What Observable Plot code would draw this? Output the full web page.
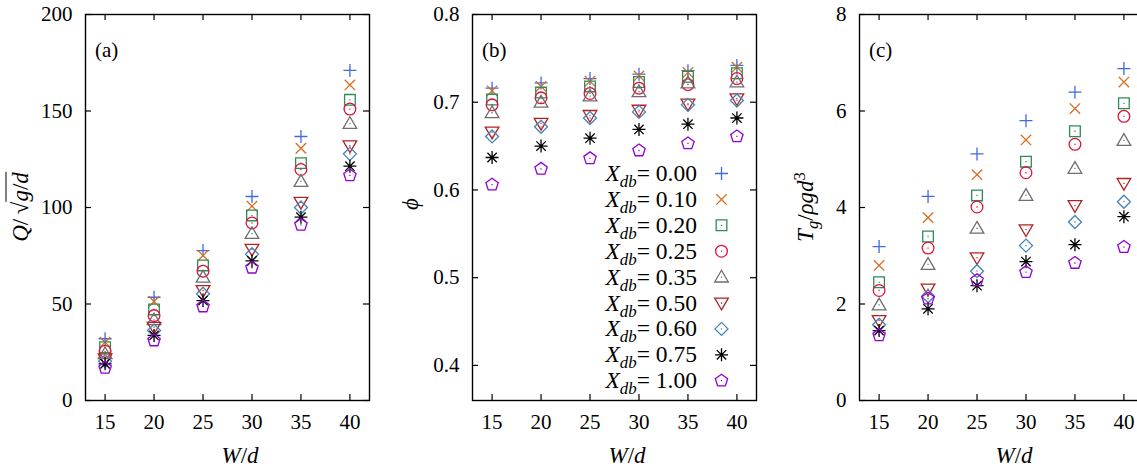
<!DOCTYPE html>
<html><head><meta charset="utf-8">
<script src="https://cdn.jsdelivr.net/npm/d3@7"></script>
<script src="https://cdn.jsdelivr.net/npm/@observablehq/plot@0.6"></script>
<style>
html,body{margin:0;padding:0;background:#fff;overflow:hidden}
#wrap{position:relative;width:1137px;height:475px;overflow:hidden;font-family:"Liberation Serif","DejaVu Serif",serif;color:#000}
.panel{position:absolute;top:0;width:387px;height:475px}
.panel svg{max-width:none !important;width:387px;height:475px}
.lab{position:absolute;white-space:nowrap;font-size:21px;line-height:1}
.big{font-size:23px}
.rot{transform:translate(-50%,-50%) rotate(-90deg)}
.ctr{transform:translate(-50%,-50%)}
.tag{transform:translate(0,-50%)}
sub,sup{font-size:0.72em;line-height:0}
sub{vertical-align:-0.35em}
sup{vertical-align:0.45em}
.leg{position:absolute;white-space:nowrap;font-size:23.5px;line-height:26px;text-align:right}
.ov{border-top:1.3px solid #000;padding-top:1px}
</style></head><body><div id="wrap"></div>
<script>
// ---------------- data ----------------
const W_d = [15, 20, 25, 30, 35, 40];
const Xdb = ["0.00", "0.10", "0.20", "0.25", "0.35", "0.50", "0.60", "0.75", "1.00"];
const colors = ["#4169e1", "#d96c1e", "#2e8b57", "#dc143c", "#6e6e6e", "#b22222", "#4682b4", "#000000", "#9400d3"];

// (a) Q / sqrt(g/d), one row per X_db
const Q = [
  [32.0, 53.5, 77.7, 105.7, 136.8, 171.0],
  [30.2, 51.3, 75.1, 100.7, 130.7, 163.5],
  [27.6, 47.2, 70.0, 95.9, 123.0, 155.8],
  [25.5, 44.0, 67.0, 92.0, 119.7, 151.0],
  [24.2, 41.8, 63.9, 86.5, 113.5, 143.5],
  [21.6, 38.0, 57.0, 78.4, 102.7, 132.0],
  [20.4, 36.3, 55.3, 75.8, 100.0, 127.8],
  [19.0, 33.7, 51.8, 72.3, 95.0, 121.4],
  [16.9, 31.1, 48.7, 68.8, 91.0, 116.6]
];
// (b) phi
const PHI = [
  [0.716, 0.722, 0.727, 0.732, 0.736, 0.742],
  [0.713, 0.718, 0.724, 0.730, 0.734, 0.740],
  [0.703, 0.711, 0.718, 0.723, 0.729, 0.733],
  [0.697, 0.705, 0.710, 0.716, 0.720, 0.727],
  [0.688, 0.700, 0.707, 0.712, 0.722, 0.723],
  [0.666, 0.676, 0.685, 0.691, 0.698, 0.704],
  [0.661, 0.672, 0.682, 0.689, 0.697, 0.702],
  [0.637, 0.650, 0.659, 0.669, 0.675, 0.682],
  [0.606, 0.624, 0.636, 0.645, 0.653, 0.661]
];
// (c) T_g / rho g d^3
const TG = [
  [3.19, 4.23, 5.11, 5.80, 6.39, 6.88],
  [2.80, 3.79, 4.68, 5.40, 6.05, 6.60],
  [2.45, 3.40, 4.25, 4.95, 5.58, 6.16],
  [2.28, 3.16, 4.01, 4.72, 5.31, 5.89],
  [1.98, 2.82, 3.57, 4.25, 4.81, 5.39],
  [1.66, 2.31, 2.96, 3.54, 4.04, 4.50],
  [1.57, 2.16, 2.68, 3.21, 3.70, 4.12],
  [1.45, 1.90, 2.38, 2.88, 3.23, 3.81],
  [1.35, 2.11, 2.49, 2.66, 2.85, 3.18]
];
const ticksQ = [0, 50, 100, 150, 200];
const ticksPhi = [0.4, 0.5, 0.6, 0.7, 0.8];
const ticksTg = [0, 2, 4, 6, 8];

// ---------------- symbols (gnuplot-like) ----------------
const K = (f) => ({draw(c, size) { f(c, Math.sqrt(size / Math.PI)); }});
const dotC = (c) => { c.moveTo(-0.6, 0); c.lineTo(0.6, 0); };
const syms = [
  K((c, r) => { c.moveTo(-r, 0); c.lineTo(r, 0); c.moveTo(0, -r); c.lineTo(0, r); }),
  K((c, r) => { const a = r * 0.8; c.moveTo(-a, -a); c.lineTo(a, a); c.moveTo(-a, a); c.lineTo(a, -a); }),
  K((c, r) => { const a = r * 0.82; c.moveTo(-a, -a); c.lineTo(a, -a); c.lineTo(a, a); c.lineTo(-a, a); c.closePath(); dotC(c); }),
  K((c, r) => { const a = r * 0.9; c.moveTo(a, 0); c.arc(0, 0, a, 0, 2 * Math.PI); dotC(c); }),
  K((c, r) => { c.moveTo(0, -r * 1.05); c.lineTo(r * 1.05, r * 0.75); c.lineTo(-r * 1.05, r * 0.75); c.closePath(); dotC(c); }),
  K((c, r) => { c.moveTo(0, r * 1.05); c.lineTo(r * 1.05, -r * 0.75); c.lineTo(-r * 1.05, -r * 0.75); c.closePath(); dotC(c); }),
  K((c, r) => { c.moveTo(0, -r); c.lineTo(r, 0); c.lineTo(0, r); c.lineTo(-r, 0); c.closePath(); dotC(c); }),
  K((c, r) => { c.moveTo(-r, 0); c.lineTo(r, 0); c.moveTo(0, -r); c.lineTo(0, r); const a = r * 0.72; c.moveTo(-a, -a); c.lineTo(a, a); c.moveTo(-a, a); c.lineTo(a, -a); }),
  K((c, r) => { for (let k = 0; k < 5; k++) { const t = -Math.PI / 2 + k * 2 * Math.PI / 5; const px = r * Math.cos(t), py = r * Math.sin(t); if (k) c.lineTo(px, py); else c.moveTo(px, py); } c.closePath(); dotC(c); })
];

// ---------------- layout ----------------
const PW = 387, ML = 85, MT = 14, FW = 284, FH = 386, H = 475;
const SR = 6.5, SW = 1.3;
const LEG_TOP = 173, LEG_STEP = 25.9;

function panel(vals, yDomain, yTicks, fmt, withLegend) {
  const marks = [
    Plot.frame({stroke: "#000", strokeWidth: 1.4}),
    Plot.ruleX(W_d, {insetTop: FH - 6, stroke: "#000", strokeWidth: 1.2}),
    Plot.ruleX(W_d, {insetBottom: FH - 6, stroke: "#000", strokeWidth: 1.2}),
    Plot.ruleY(yTicks, {insetRight: FW - 6, stroke: "#000", strokeWidth: 1.2}),
    Plot.ruleY(yTicks, {insetLeft: FW - 6, stroke: "#000", strokeWidth: 1.2}),
    Plot.axisX(W_d, {tickSize: 0, tickPadding: 14, label: null, tickFormat: d3.format("d")}),
    Plot.axisY(yTicks, {tickSize: 0, tickPadding: 13, label: null, tickFormat: fmt})
  ];
  vals.forEach((row, i) => {
    const pts = W_d.map((x, j) => ({x, v: row[j]}));
    marks.push(Plot.dot(pts, {x: "x", y: "v", symbol: syms[i], stroke: colors[i], fill: "none", r: SR, strokeWidth: SW}));
  });
  if (withLegend) {
    Xdb.forEach((lab, i) => {
      marks.push(Plot.dot([lab], {frameAnchor: "top-right", dx: -35, dy: LEG_TOP - MT + i * LEG_STEP,
        symbol: syms[i], stroke: colors[i], fill: "none", r: SR, strokeWidth: SW}));
    });
  }
  const svg = Plot.plot({
    width: PW, height: H,
    marginLeft: ML, marginRight: PW - ML - FW, marginTop: MT, marginBottom: H - MT - FH,
    x: {domain: [13, 42]},
    y: {domain: yDomain},
    style: {fontFamily: '"Liberation Serif","DejaVu Serif",serif', fontSize: "21px", background: "transparent", color: "#000", maxWidth: "none"},
    marks
  });
  return svg;
}

const wrap = document.getElementById("wrap");
const panels = [
  panel(Q, [0, 200], ticksQ, d3.format("d"), false),
  panel(PHI, [0.36, 0.8], ticksPhi, d3.format(".1f"), true),
  panel(TG, [0, 8], ticksTg, d3.format("d"), false)
];
panels.forEach((svg, k) => {
  const d = document.createElement("div");
  d.className = "panel";
  d.style.left = (k * PW) + "px";
  d.appendChild(svg);
  wrap.appendChild(d);
});

function lab(html, x, y, cls) {
  const d = document.createElement("div");
  d.className = "lab " + cls;
  d.style.left = x + "px";
  d.style.top = y + "px";
  d.innerHTML = html;
  wrap.appendChild(d);
}
const tags = ["(a)", "(b)", "(c)"];
tags.forEach((t, k) => {
  lab(t, k * PW + ML + 10, 50, "tag");
  lab("<i>W</i>/<i>d</i>", k * PW + ML + 155, 455, "ctr big");
});
lab('<i>Q</i>/&#8239;&#8730;<span class="ov"><i>g</i>/<i>d</i></span>', 20, 207, "rot big");
lab('<i>&#981;</i>', PW + 23, 204, "rot big");
lab('<i>T<sub>g</sub></i>/<i>&#961;gd</i><sup>3</sup>', 2 * PW + 31, 207, "rot big");

Xdb.forEach((v, i) => {
  const d = document.createElement("div");
  d.className = "leg";
  d.style.right = (1137 - 697) + "px";
  d.style.top = (LEG_TOP + i * LEG_STEP - 13) + "px";
  d.innerHTML = "<i>X<sub>db</sub></i>= " + v;
  wrap.appendChild(d);
});
</script></body></html>
